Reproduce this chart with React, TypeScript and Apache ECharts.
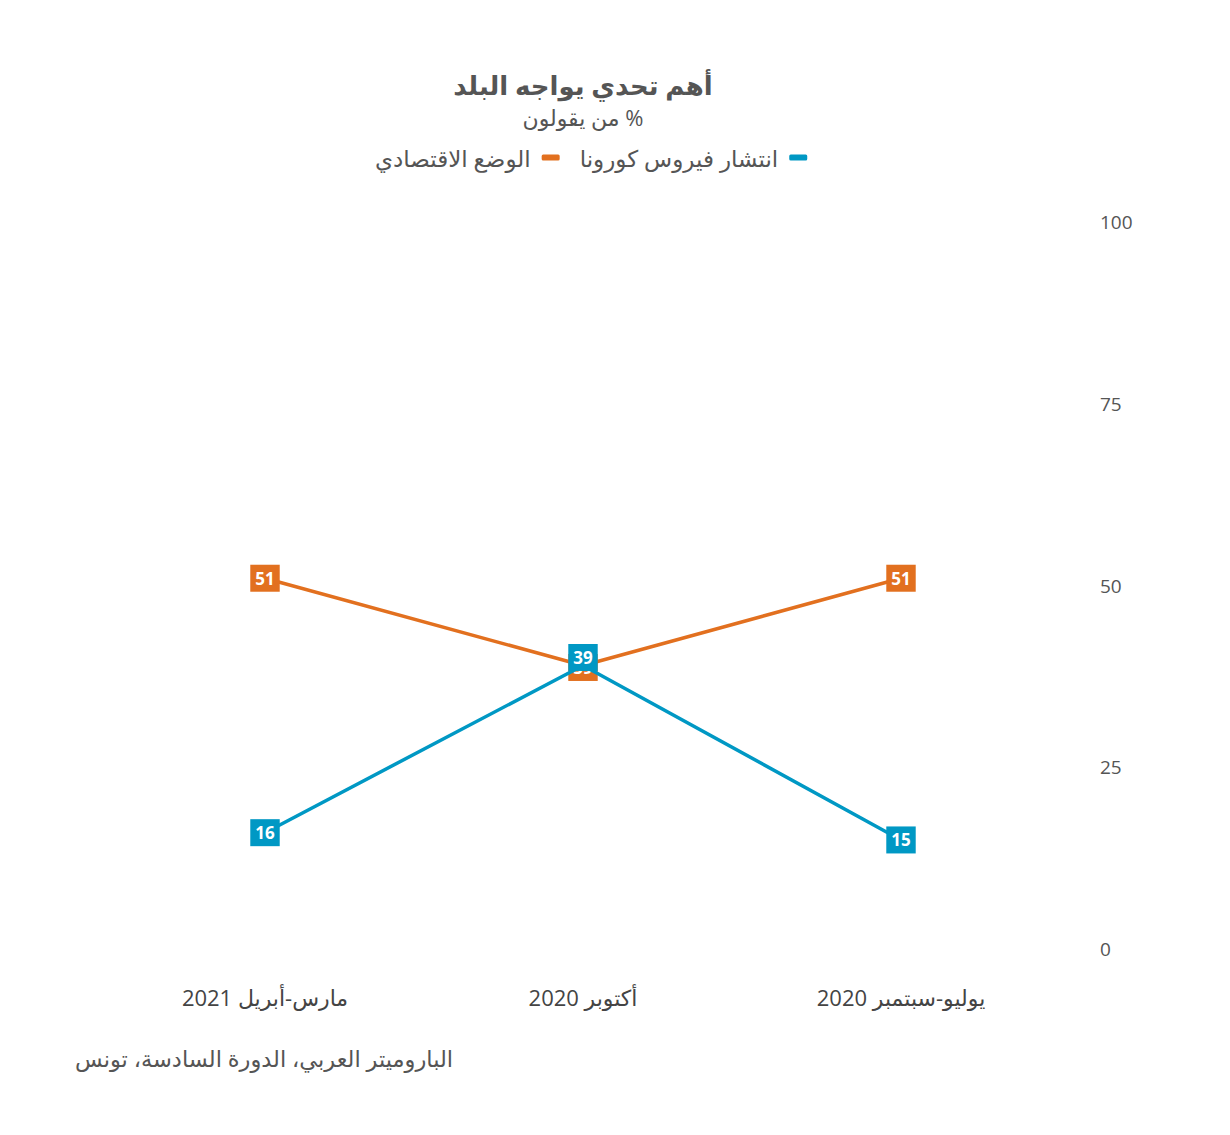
import React, { useEffect, useRef } from "react";
import * as echarts from "echarts";

const categories = ["يوليو-سبتمبر 2020", "أكتوبر 2020", "مارس-أبريل 2021"];
const economyValues = [51, 39, 51];
const coronaValues = [15, 39, 16];
const yTicks = [0, 25, 50, 75, 100];

const seriesNames = ["الوضع الاقتصادي", "انتشار فيروس كورونا"];
const colors = ["#e2701f", "#0098c4"];

const FONT = "'Open Sans', 'DejaVu Sans', sans-serif";

export default function App() {
  const ref = useRef<HTMLDivElement>(null);
  useEffect(() => {
    if (!ref.current) return;
    const chart = echarts.init(ref.current, null, { renderer: "svg" });
    const labelBase = {
      show: true,
      position: "inside",
      color: "#fff",
      fontWeight: "bold",
      fontSize: 17,
      lineHeight: 17,
      fontFamily: FONT,
      padding: [5, 5, 5, 5],
    };
    chart.setOption({
      animation: false,
      textStyle: { fontFamily: FONT },
      legend: {
        data: seriesNames,
        top: 141,
        left: 370,
        align: "right",
        icon: "roundRect",
        itemWidth: 18,
        itemHeight: 6,
        itemGap: 20,
        textStyle: { fontSize: 23, color: "#555", fontFamily: FONT, padding: [0, 6, 0, 0] },
      },
      grid: { left: 106, right: 170, top: 222, bottom: 186 },
      xAxis: {
        type: "category",
        data: categories,
        inverse: true,
        boundaryGap: true,
        axisLine: { show: false },
        axisTick: { show: false },
        splitLine: { show: false },
        axisLabel: { fontSize: 22, color: "#444", margin: 37, fontFamily: FONT },
      },
      yAxis: {
        type: "value",
        position: "right",
        min: yTicks[0],
        max: yTicks[yTicks.length - 1],
        interval: 25,
        axisLine: { show: false },
        axisTick: { show: false },
        splitLine: { show: false },
        axisLabel: { fontSize: 19, color: "#555", margin: 40, fontFamily: FONT },
      },
      series: [
        {
          name: seriesNames[0],
          type: "line",
          data: economyValues.map((v, i) =>
            i === 1 ? { value: v, label: { offset: [0, 2] } } : v
          ),
          color: colors[0],
          lineStyle: { width: 3.5, color: colors[0] },
          symbol: "rect",
          symbolSize: 2,
          label: { ...labelBase, backgroundColor: colors[0] },
          z: 2,
        },
        {
          name: seriesNames[1],
          type: "line",
          data: coronaValues.map((v, i) =>
            i === 1 ? { value: v, label: { offset: [0, -8] } } : v
          ),
          color: colors[1],
          lineStyle: { width: 3.5, color: colors[1] },
          symbol: "rect",
          symbolSize: 2,
          label: { ...labelBase, backgroundColor: colors[1] },
          z: 3,
        },
      ],
      graphic: [
        {
          type: "text",
          x: 583,
          y: 85,
          style: {
            text: "أهم تحدي يواجه البلد",
            fontSize: 26,
            lineHeight: 26,
            fontWeight: "bold",
            fill: "#555",
            fontFamily: FONT,
            align: "center",
            verticalAlign: "middle",
          },
        },
        {
          type: "text",
          x: 583,
          y: 117,
          style: {
            text: "من يقولون %",
            fontSize: 22,
            lineHeight: 22,
            fill: "#555",
            fontFamily: FONT,
            align: "center",
            verticalAlign: "middle",
          },
        },
        {
          type: "text",
          x: 75,
          y: 1058,
          style: {
            text: "الباروميتر العربي، الدورة السادسة، تونس",
            fontSize: 22.5,
            fill: "#555",
            fontFamily: FONT,
            align: "left",
            verticalAlign: "middle",
          },
        },
      ],
    });
    return () => chart.dispose();
  }, []);
  return (
    <div
      ref={ref}
      style={{ position: "absolute", left: 0, top: 0, width: 1230, height: 1135, background: "#fff" }}
    />
  );
}
